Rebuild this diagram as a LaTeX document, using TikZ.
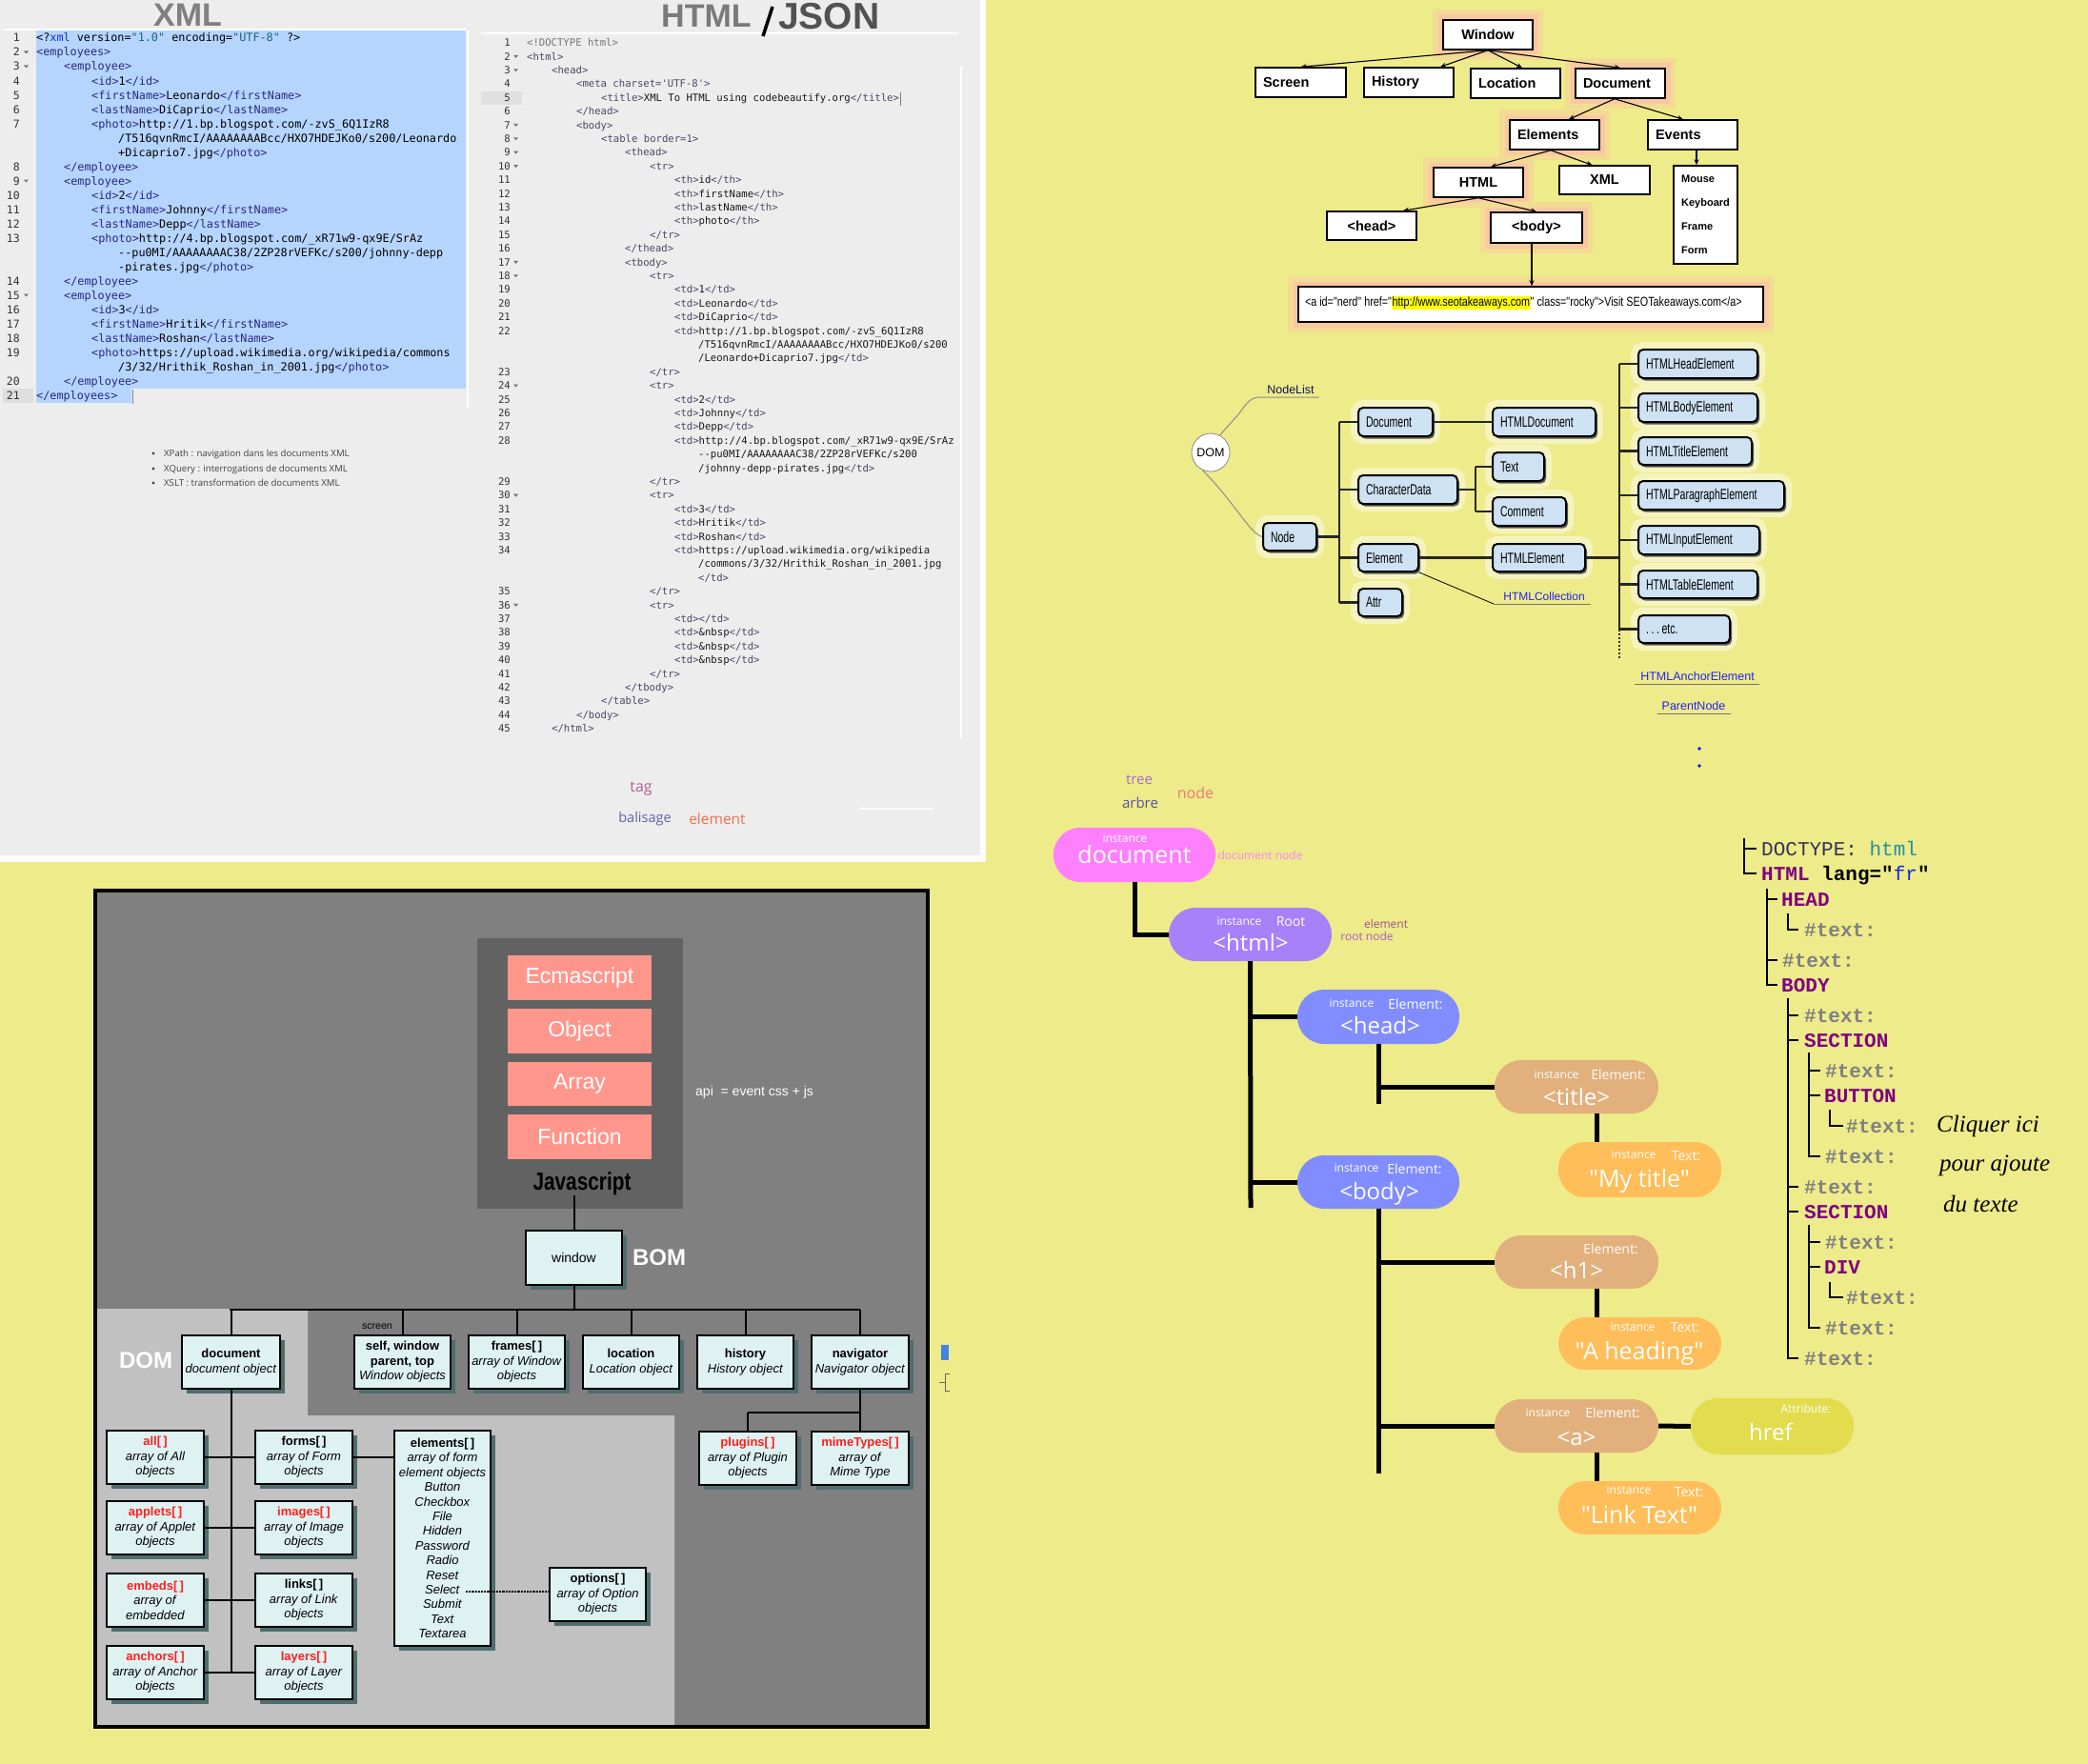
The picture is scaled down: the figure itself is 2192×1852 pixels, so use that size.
\documentclass[tikz,border=0pt]{standalone}
\usepackage{fontspec}
\setmainfont{Liberation Sans}
\newfontfamily\arialf{Liberation Sans}
\newfontfamily\codef{DejaVu Sans Mono}
\newfontfamily\condf[FakeStretch=0.8]{Liberation Sans}
\newfontfamily\narrowf[FakeStretch=0.68]{Liberation Sans}
\newfontfamily\osans{Open Sans}
\newfontfamily\courf{Liberation Mono}
\newfontfamily\lserif{Liberation Serif}
\usetikzlibrary{arrows.meta,shadows,calc}
\definecolor{bgyellow}{RGB}{238,235,138}
\definecolor{panel}{RGB}{237,237,237}
\definecolor{selblue}{RGB}{181,213,255}
\definecolor{xtag}{RGB}{40,40,130}
\definecolor{xval}{RGB}{30,100,120}
\definecolor{xblue}{RGB}{20,40,230}
\definecolor{htag}{RGB}{75,70,100}
\definecolor{hcont}{RGB}{25,25,25}
\definecolor{midgray}{RGB}{128,128,128}
\definecolor{lightgray}{RGB}{193,193,193}
\definecolor{jsgray}{RGB}{98,98,98}
\definecolor{salmon}{RGB}{255,150,140}
\definecolor{boxcyan}{RGB}{222,242,242}
\definecolor{boxshadow}{RGB}{78,110,110}
\definecolor{domblue}{RGB}{207,226,243}
\definecolor{glow}{RGB}{249,200,160}
\definecolor{linkblue}{RGB}{35,35,240}
\definecolor{pdoc}{RGB}{255,128,255}
\definecolor{phtml}{RGB}{168,128,250}
\definecolor{phead}{RGB}{128,140,255}
\definecolor{pelem}{RGB}{225,176,124}
\definecolor{ptext}{RGB}{255,190,90}
\definecolor{pattr}{RGB}{226,220,78}
\definecolor{cpurple}{RGB}{128,0,128}
\definecolor{cgray}{RGB}{128,128,128}
\definecolor{cteal}{RGB}{32,144,160}
\definecolor{doct}{RGB}{50,50,85}
\definecolor{redtxt}{RGB}{255,30,30}
\definecolor{hlyellow}{RGB}{255,255,0}
\definecolor{tagc}{RGB}{176,96,150}
\definecolor{balc}{RGB}{96,96,170}
\definecolor{elemc}{RGB}{240,112,80}
\definecolor{nlc}{RGB}{20,20,90}
\definecolor{artblue}{RGB}{70,130,230}
\definecolor{treec}{RGB}{170,110,200}
\definecolor{arbrec}{RGB}{90,80,165}
\definecolor{nodec}{RGB}{240,120,120}
\definecolor{elemlc}{RGB}{160,80,140}
\definecolor{rootlc}{RGB}{170,90,200}
\newcommand\tg[1]{\textcolor{xtag}{#1}}
\newcommand\hc[1]{\textcolor{hcont}{#1}}
\newcommand\rd[1]{\textcolor{redtxt}{\textbf{#1}}}
\newcommand\xcl[3]{\node[myxcode] at (#1,{44+15*(#2-1)}) {#3};}
\newcommand\hcl[3]{\node[myhcode] at (#1,{48.7+14.4*(#2-1)}) {#3};}
\newcommand\bxx[7]{%
  \pgfmathsetmacro\bxW{#5-#3}\pgfmathsetmacro\bxH{#6-#4}%
  \pgfmathsetmacro\bxX{(#3+#5)/2}\pgfmathsetmacro\bxY{(#4+#6)/2}%
  \node[#1, minimum width=\bxW pt, minimum height=\bxH pt] (#2) at (\bxX,\bxY) {#7};}
\newcommand\lbx[7]{%
  \pgfmathsetmacro\bxW{#5-#3}\pgfmathsetmacro\bxH{#6-#4}%
  \pgfmathsetmacro\bxX{(#3+#5)/2}\pgfmathsetmacro\bxY{(#4+#6)/2}%
  \node[#1, minimum width=\bxW pt, minimum height=\bxH pt] (#2) at (\bxX,\bxY) {\makebox[\bxW pt][l]{\hspace{8pt}#7}};}
\newcommand\rtx[3]{\node[myrt] at (#1,{#2+7}) {#3};}
\newcommand\txh{\textcolor{cgray}{\bfseries\#text:}}
\newcommand\tpu[1]{\textcolor{cpurple}{\bfseries #1}}
\tikzset{
  myxcode/.style={anchor=base west, inner sep=0pt, font=\codef\fontsize{11.8}{13}\selectfont, text=black},
  myhcode/.style={anchor=base west, inner sep=0pt, font=\codef\fontsize{10.6}{12}\selectfont, text=htag},
  mywbox/.style={draw=black, line width=1.5pt, fill=white, inner sep=0pt, font=\arialf\bfseries\fontsize{14.5}{16}\selectfont},
  myglow/.style={preaction={draw=glow!45!bgyellow, line width=22pt}, preaction={draw=glow, line width=11pt}},
  mywarr/.style={line width=1.1pt, -{Stealth[length=6pt,width=5pt]}},
  mydom/.style={draw=black, line width=2pt, fill=domblue, rounded corners=5pt, inner sep=0pt, font=\narrowf\fontsize{15.5}{16}\selectfont, preaction={draw=white, draw opacity=0.45, line width=16pt}, drop shadow={shadow xshift=2pt, shadow yshift=-2.5pt, fill=black!65, opacity=1}},
  mydline/.style={line width=2.3pt, black!85},
  mybbox/.style={draw=black, line width=2pt, fill=boxcyan, inner sep=0pt, align=center, font=\arialf\fontsize{13}{15.4}\selectfont, drop shadow={shadow xshift=5pt, shadow yshift=-5pt, fill=boxshadow, opacity=1}},
  mybline/.style={line width=2pt, black},
  mysalm/.style={fill=salmon, inner sep=0pt, text=white, font=\arialf\fontsize{23}{23}\selectfont},
  mypill/.style={rounded corners=28pt, inner sep=0pt},
  mypbig/.style={text=white, inner sep=0pt, font=\osans\fontsize{24}{24}\selectfont, text height=17pt, text depth=0pt},
  mypmid/.style={text=white, inner sep=0pt, font=\osans\fontsize{14}{14}\selectfont, text height=10pt, text depth=0pt},
  mypsmall/.style={text=white, inner sep=0pt, font=\osans\fontsize{12}{12}\selectfont, text height=8.5pt, text depth=0pt},
  myconn/.style={line width=5pt, black},
  myrt/.style={anchor=base west, inner sep=0pt, font=\courf\fontsize{21}{21}\selectfont},
  mytline/.style={line width=2pt, black},
  mylbl/.style={inner sep=0pt, font=\osans\fontsize{12}{12}\selectfont},
}
\begin{document}
\begin{tikzpicture}[x=1pt,y=-1pt]
\useasboundingbox (0,0) rectangle (2192,1852);
\fill[bgyellow] (0,0) rectangle (2192,1852);
% ================= top-left grey panel
\fill[white] (0,0) rectangle (1035,905);
\fill[panel] (0,0) rectangle (1029,898);
% ---- XML pane
\draw[white, line width=1.5pt] (3,31) -- (490,31);
\fill[selblue] (38,32.5) rectangle (489,407.5);
\fill[selblue] (38,407.5) rectangle (138,422.5);
\fill[black!13] (3,407.5) rectangle (35,422.5);
\draw[white, line width=1.5pt] (491,32) -- (491,428);
\draw[black!50, line width=0.8pt] (139,409) -- (139,424);
\node[anchor=base, inner sep=0pt, font=\arialf\bfseries\fontsize{34}{34}\selectfont, text=black!50] (xmltitle) at (197,28) {XML};
\foreach \n in {1,...,21} {
  \pgfmathtruncatemacro\rw{\n+2*(\n>7)+2*(\n>13)+1*(\n>19)}
  \node[anchor=base east, inner sep=0pt, font=\codef\fontsize{11.5}{13}\selectfont, text=black!80] at (21,{44+15*(\rw-1)}) {\n};
}
\foreach \rr in {2,3,11,19} {\fill[black!55] (25,{38.5+15*(\rr-1)}) -- (30,{38.5+15*(\rr-1)}) -- (27.5,{41.5+15*(\rr-1)}) -- cycle;}
\xcl{38}{1}{<?\textcolor{xblue}{xml} version=\textcolor{xval}{"1.0"} encoding=\textcolor{xval}{"UTF-8"} ?>}
\xcl{38}{2}{\tg{<employees>}}
\xcl{67}{3}{\tg{<employee>}}
\xcl{96}{4}{\tg{<id>}1\tg{</id>}}
\xcl{96}{5}{\tg{<firstName>}Leonardo\tg{</firstName>}}
\xcl{96}{6}{\tg{<lastName>}DiCaprio\tg{</lastName>}}
\xcl{96}{7}{\tg{<photo>}http://1.bp.blogspot.com/-zvS\_6Q1IzR8}
\xcl{124}{8}{/T516qvnRmcI/AAAAAAAABcc/HXO7HDEJKo0/s200/Leonardo}
\xcl{124}{9}{+Dicaprio7.jpg\tg{</photo>}}
\xcl{67}{10}{\tg{</employee>}}
\xcl{67}{11}{\tg{<employee>}}
\xcl{96}{12}{\tg{<id>}2\tg{</id>}}
\xcl{96}{13}{\tg{<firstName>}Johnny\tg{</firstName>}}
\xcl{96}{14}{\tg{<lastName>}Depp\tg{</lastName>}}
\xcl{96}{15}{\tg{<photo>}http://4.bp.blogspot.com/\_xR71w9-qx9E/SrAz}
\xcl{124}{16}{-{}-pu0MI/AAAAAAAAC38/2ZP28rVEFKc/s200/johnny-depp}
\xcl{124}{17}{-pirates.jpg\tg{</photo>}}
\xcl{67}{18}{\tg{</employee>}}
\xcl{67}{19}{\tg{<employee>}}
\xcl{96}{20}{\tg{<id>}3\tg{</id>}}
\xcl{96}{21}{\tg{<firstName>}Hritik\tg{</firstName>}}
\xcl{96}{22}{\tg{<lastName>}Roshan\tg{</lastName>}}
\xcl{96}{23}{\tg{<photo>}https://upload.wikimedia.org/wikipedia/commons}
\xcl{124}{24}{/3/32/Hrithik\_Roshan\_in\_2001.jpg\tg{</photo>}}
\xcl{67}{25}{\tg{</employee>}}
\xcl{38}{26}{\tg{</employees>}}
% bullets
\foreach \yy/\tt in {476/{XPath : navigation dans les documents XML},492/{XQuery : interrogations de documents XML},507/{XSLT : transformation de documents XML}} {
  \fill[black!75] (161,\yy) circle (1.6);
  \node[anchor=base west, inner sep=0pt, font=\osans\fontsize{9.6}{11}\selectfont, text=black!75] at (172,{\yy+3.5}) {\tt};
}
% ---- HTML pane
\draw[white, line width=1.5pt] (505,35) -- (1006,35);
\draw[white, line width=1.2pt] (1009,70) -- (1009,775);
\draw[white, line width=1.2pt] (903,849) -- (980,849);
\fill[black!12] (505,96) rectangle (548,110);
\draw[black!50, line width=0.8pt] (945,97) -- (945,111);
\node[anchor=base west, inner sep=0pt, font=\arialf\bfseries\fontsize{34}{34}\selectfont, text=black!52] (htmltitle) at (694,28.5) {HTML};
\draw[black, line width=3.5pt] (801,38) -- (811,7);
\node[anchor=base west, inner sep=0pt, font=\arialf\bfseries\fontsize{39}{39}\selectfont, text=black!68] (jsontitle) at (817,31) {JSON};
\foreach \n in {1,...,45} {
  \pgfmathtruncatemacro\rw{\n+2*(\n>22)+2*(\n>28)+2*(\n>34)}
  \node[anchor=base east, inner sep=0pt, font=\codef\fontsize{10.6}{12}\selectfont, text=black!80] at (536,{48.7+14.4*(\rw-1)}) {\n};
}
\foreach \rr in {2,3,7,8,9,10,17,18,26,34,42} {\fill[black!55] (539,{43.5+14.4*(\rr-1)}) -- (544,{43.5+14.4*(\rr-1)}) -- (541.5,{46.5+14.4*(\rr-1)}) -- cycle;}
\hcl{553}{1}{\textcolor{black!55}{<!DOCTYPE html>}}
\hcl{553}{2}{<html>}
\hcl{579}{3}{<head>}
\hcl{605}{4}{<meta charset='UTF-8'>}
\hcl{631}{5}{<title>\hc{XML To HTML using codebeautify.org}</title>}
\hcl{605}{6}{</head>}
\hcl{605}{7}{<body>}
\hcl{631}{8}{<table border=1>}
\hcl{656}{9}{<thead>}
\hcl{682}{10}{<tr>}
\hcl{708}{11}{<th>\hc{id}</th>}
\hcl{708}{12}{<th>\hc{firstName}</th>}
\hcl{708}{13}{<th>\hc{lastName}</th>}
\hcl{708}{14}{<th>\hc{photo}</th>}
\hcl{682}{15}{</tr>}
\hcl{656}{16}{</thead>}
\hcl{656}{17}{<tbody>}
\hcl{682}{18}{<tr>}
\hcl{708}{19}{<td>\hc{1}</td>}
\hcl{708}{20}{<td>\hc{Leonardo}</td>}
\hcl{708}{21}{<td>\hc{DiCaprio}</td>}
\hcl{708}{22}{<td>\hc{http://1.bp.blogspot.com/-zvS\_6Q1IzR8}}
\hcl{733}{23}{\hc{/T516qvnRmcI/AAAAAAAABcc/HXO7HDEJKo0/s200}}
\hcl{733}{24}{\hc{/Leonardo+Dicaprio7.jpg}</td>}
\hcl{682}{25}{</tr>}
\hcl{682}{26}{<tr>}
\hcl{708}{27}{<td>\hc{2}</td>}
\hcl{708}{28}{<td>\hc{Johnny}</td>}
\hcl{708}{29}{<td>\hc{Depp}</td>}
\hcl{708}{30}{<td>\hc{http://4.bp.blogspot.com/\_xR71w9-qx9E/SrAz}}
\hcl{733}{31}{\hc{-{}-pu0MI/AAAAAAAAC38/2ZP28rVEFKc/s200}}
\hcl{733}{32}{\hc{/johnny-depp-pirates.jpg}</td>}
\hcl{682}{33}{</tr>}
\hcl{682}{34}{<tr>}
\hcl{708}{35}{<td>\hc{3}</td>}
\hcl{708}{36}{<td>\hc{Hritik}</td>}
\hcl{708}{37}{<td>\hc{Roshan}</td>}
\hcl{708}{38}{<td>\hc{https://upload.wikimedia.org/wikipedia}}
\hcl{733}{39}{\hc{/commons/3/32/Hrithik\_Roshan\_in\_2001.jpg}}
\hcl{733}{40}{</td>}
\hcl{682}{41}{</tr>}
\hcl{682}{42}{<tr>}
\hcl{708}{43}{<td></td>}
\hcl{708}{44}{<td>\hc{\&nbsp}</td>}
\hcl{708}{45}{<td>\hc{\&nbsp}</td>}
\hcl{708}{46}{<td>\hc{\&nbsp}</td>}
\hcl{682}{47}{</tr>}
\hcl{656}{48}{</tbody>}
\hcl{631}{49}{</table>}
\hcl{605}{50}{</body>}
\hcl{579}{51}{</html>}
\node[inner sep=0pt, font=\osans\fontsize{16}{16}\selectfont, text=tagc] (tagw) at (673,828) {tag};
\node[inner sep=0pt, font=\osans\fontsize{14.5}{15}\selectfont, text=balc] (balw) at (677,860) {balisage};
\node[inner sep=0pt, font=\osans\fontsize{15.5}{16}\selectfont, text=elemc] (elw) at (753,860) {element};
% ================= top-right Window tree
\bxx{mywbox,myglow}{win}{1515}{21}{1609}{52}{Window}
\lbx{mywbox}{scr}{1318}{71}{1413}{102}{Screen}
\lbx{mywbox}{hist}{1432}{71}{1526}{102}{History}
\lbx{mywbox}{loc}{1544}{72}{1638}{103}{Location}
\lbx{mywbox,myglow}{docw}{1654}{72}{1748}{103}{Document}
\lbx{mywbox,myglow}{elw2}{1585}{126}{1679}{157}{Elements}
\lbx{mywbox}{evw}{1730}{126}{1824}{157}{Events}
\bxx{mywbox,myglow}{htmlw}{1505}{176}{1599}{207}{HTML}
\bxx{mywbox}{xmlw}{1637}{174}{1732}{204}{XML}
\bxx{mywbox}{headw}{1393}{222}{1487}{252}{<head>}
\bxx{mywbox,myglow}{bodyw}{1565}{223}{1661}{255}{<body>}
\bxx{mywbox, align=left, font=\arialf\bfseries\fontsize{11}{25}\selectfont}{mouseb}{1757}{174}{1824}{277}{Mouse\\Keyboard\\Frame\\Form}
\bxx{mywbox,myglow, font=\condf\fontsize{13.5}{15}\selectfont}{abox}{1363}{301}{1851}{338}{\raisebox{6pt}{\makebox[474pt][l]{<a id="nerd" href="{\fboxsep=0.5pt\colorbox{hlyellow}{http://www.seotakeaways.com}}" class="rocky">Visit SEOTakeaways.com</a>}}}
\draw[mywarr] (win.south) -- (scr.north);
\draw[mywarr] (win.south) -- ([xshift=33pt]hist.north);
\draw[mywarr] (win.south) -- ([xshift=7pt]loc.north);
\draw[mywarr] (win.south) -- (docw.north);
\draw[mywarr] ([xshift=-6pt]docw.south) -- ([xshift=15pt]elw2.north);
\draw[mywarr] ([xshift=-6pt]docw.south) -- ([xshift=-10pt]evw.north);
\draw[mywarr] ([xshift=-4pt]elw2.south) -- ([xshift=13pt]htmlw.north);
\draw[mywarr] ([xshift=-4pt]elw2.south) -- ([xshift=-13pt]xmlw.north);
\draw[mywarr] ([xshift=4pt]evw.south) -- ([xshift=4pt]evw.south |- mouseb.north);
\draw[mywarr] (htmlw.south) -- ([xshift=33pt]headw.north);
\draw[mywarr] (htmlw.south) -- (bodyw.north);
\draw[mywarr] ([xshift=-5pt]bodyw.south) -- ([xshift=-5pt]bodyw.south |- abox.north);
% ================= DOM class tree
\lbx{mydom}{nodeb}{1326}{549}{1382}{578}{Node}
\lbx{mydom}{docb}{1426}{428}{1504}{458}{Document}
\lbx{mydom}{cdb}{1426}{499}{1530}{529}{CharacterData}
\lbx{mydom}{elb}{1426}{571}{1489}{600}{Element}
\lbx{mydom}{attrb}{1426}{618}{1472}{647}{Attr}
\lbx{mydom}{htmldocb}{1567}{428}{1675}{458}{HTMLDocument}
\lbx{mydom}{textb}{1567}{475}{1621}{505}{Text}
\lbx{mydom}{commb}{1567}{522}{1644}{552}{Comment}
\lbx{mydom}{htmlelb}{1567}{571}{1664}{600}{HTMLElement}
\lbx{mydom}{hhe}{1720}{367}{1845}{397}{HTMLHeadElement}
\lbx{mydom}{hbe}{1720}{413}{1845}{443}{HTMLBodyElement}
\lbx{mydom}{hte}{1720}{459}{1839}{488}{HTMLTitleElement}
\lbx{mydom}{hpe}{1720}{505}{1873}{535}{HTMLParagraphElement}
\lbx{mydom}{hie}{1720}{552}{1847}{582}{HTMLInputElement}
\lbx{mydom}{htbe}{1720}{599}{1845}{628}{HTMLTableElement}
\lbx{mydom}{etcb}{1720}{646}{1816}{675}{.\,.\,.\,etc.}
\node[circle, draw=black!45, line width=0.8pt, fill=white, minimum size=40pt, inner sep=0pt, font=\arialf\fontsize{12.5}{13}\selectfont] (domc) at (1271,475) {DOM};
\coordinate (t1) at (1406,443);
\coordinate (cdj) at (1549,514);
\coordinate (t2) at (1700,382);
\coordinate (t2end) at (1700,692);
\draw[mydline] (nodeb.east) -- (nodeb.east -| t1);
\draw[mydline] (t1 |- docb.west) -- (t1 |- attrb.west);
\foreach \bb in {docb,cdb,elb,attrb} {\draw[mydline] (t1 |- \bb.west) -- (\bb.west);}
\draw[mydline] (docb.east) -- (htmldocb.west);
\draw[mydline] (cdb.east) -- (cdb.east -| cdj);
\draw[mydline] (cdj |- textb.west) -- (cdj |- commb.west);
\draw[mydline] (cdj |- textb.west) -- (textb.west);
\draw[mydline] (cdj |- commb.west) -- (commb.west);
\draw[mydline] (elb.east) -- (htmlelb.west);
\draw[mydline] (htmlelb.east) -- (htmlelb.east -| t2);
\draw[mydline] (t2 |- hhe.west) -- (t2 |- etcb.west);
\foreach \bb in {hhe,hbe,hte,hpe,hie,htbe,etcb} {\draw[mydline] (t2 |- \bb.west) -- (\bb.west);}
\draw[black!80, line width=2pt, dotted] (t2 |- etcb.west) -- (t2end);
% labels of DOM class tree
\coordinate (nlA) at (1322,417); \coordinate (nlB) at (1385,417);
\draw[black!45, line width=1pt] (domc.62) -- (1301,434) .. controls (1308,424) and (1313,417) .. (nlA) -- (nlB);
\node[inner sep=0pt, font=\arialf\fontsize{12.5}{13}\selectfont, text=nlc] (nodelist) at (1355,409) {NodeList};
\draw[black!45, line width=1pt] (domc.245) .. controls (1298,530) and (1312,560) .. (nodeb.west);
\coordinate (hcA) at (1568,634); \coordinate (hcB) at (1670,634);
\draw[black, line width=0.8pt] (elb.south east) -- (hcA);
\draw[black!55, line width=1pt] (hcA) -- (hcB);
\node[inner sep=0pt, font=\arialf\fontsize{12}{13}\selectfont, text=linkblue] (hcoll) at (1621,626) {HTMLCollection};
\coordinate (haA) at (1716,718); \coordinate (haB) at (1847,718);
\draw[black!55, line width=1pt] (haA) -- (haB);
\node[inner sep=0pt, font=\arialf\fontsize{12.5}{13}\selectfont, text=linkblue] (hanch) at (1782,710) {HTMLAnchorElement};
\coordinate (pnA) at (1740,749); \coordinate (pnB) at (1817,749);
\draw[black!55, line width=1pt] (pnA) -- (pnB);
\node[inner sep=0pt, font=\arialf\fontsize{12.5}{13}\selectfont, text=linkblue] (pnode) at (1778,741) {ParentNode};
\fill[blue] (1784,786) circle (1.8);
\fill[blue] (1784,804) circle (1.8);
% ================= bottom-left Javascript / BOM / DOM panel
\fill[midgray] (102,937) rectangle (972,1811);
\fill[lightgray] (102,1374) -- (323,1374) -- (323,1486) -- (708,1486) -- (708,1811) -- (102,1811) -- cycle;
\draw[black, line width=4pt] (100,935) rectangle (974,1813);
\fill[jsgray] (501,985) rectangle (717,1269);
\bxx{mysalm}{ecma}{533}{1003}{684}{1050}{Ecmascript}
\bxx{mysalm}{objb}{533}{1059}{684}{1106}{Object}
\bxx{mysalm}{arrb}{533}{1115}{684}{1161}{Array}
\bxx{mysalm}{funb}{533}{1170}{684}{1217}{Function}
\node[inner sep=0pt, font=\condf\bfseries\fontsize{26}{26}\selectfont, text=black] (jstxt) at (611,1243) {Javascript};
\node[anchor=west, inner sep=0pt, font=\arialf\fontsize{14}{14}\selectfont, text=white] (apitxt) at (730,1147) {api \ = event css + js};
\bxx{mybbox, font=\arialf\fontsize{14}{15}\selectfont}{bwin}{552}{1292}{653}{1349}{window}
\node[inner sep=0pt, font=\arialf\bfseries\fontsize{24}{24}\selectfont, text=white] (bomtxt) at (692,1320) {BOM};
\node[inner sep=0pt, font=\arialf\bfseries\fontsize{24}{24}\selectfont, text=white] (domtxt) at (153,1428) {DOM};
\node[inner sep=0pt, font=\arialf\fontsize{10.5}{11}\selectfont, text=black] (scrtxt) at (396,1393) {screen};
\coordinate (busL) at (241,1375);
\coordinate (busR) at (903,1375);
\draw[mybline] (bwin.north) -- (bwin.north |- jstxt.south);
\draw[mybline] (bwin.south) -- (bwin.south |- busL);
\draw[mybline] (busL) -- (busR);
\bxx{mybbox}{bdoc}{191}{1402}{294}{1458}{\textbf{document}\\\textit{document object}}
\bxx{mybbox}{bself}{372}{1402}{473}{1458}{\textbf{self, window}\\\textbf{parent, top}\\\textit{Window objects}}
\bxx{mybbox}{bframes}{492}{1402}{593}{1458}{\textbf{frames[\,]}\\\textit{array of Window}\\\textit{objects}}
\bxx{mybbox}{bloc}{612}{1402}{713}{1458}{\textbf{location}\\\textit{Location object}}
\bxx{mybbox}{bhist}{732}{1402}{833}{1458}{\textbf{history}\\\textit{History object}}
\bxx{mybbox}{bnav}{852}{1402}{954}{1458}{\textbf{navigator}\\\textit{Navigator object}}
\foreach \bb in {bdoc,bself,bframes,bloc,bhist,bnav} {\draw[mybline] (\bb.north |- busL) -- (\bb.north);}
\bxx{mybbox}{ball}{112}{1502}{214}{1558}{\rd{all[\,]}\\\textit{array of All}\\\textit{objects}}
\bxx{mybbox}{bforms}{268}{1502}{370}{1558}{\textbf{forms[\,]}\\\textit{array of Form}\\\textit{objects}}
\bxx{mybbox}{bapp}{112}{1576}{214}{1632}{\rd{applets[\,]}\\\textit{array of Applet}\\\textit{objects}}
\bxx{mybbox}{bimg}{268}{1576}{370}{1632}{\rd{images[\,]}\\\textit{array of Image}\\\textit{objects}}
\bxx{mybbox}{bemb}{112}{1652}{214}{1708}{\rd{embeds[\,]}\\\textit{array of}\\\textit{embedded}}
\bxx{mybbox}{blinks}{268}{1652}{370}{1708}{\textbf{links[\,]}\\\textit{array of Link}\\\textit{objects}}
\bxx{mybbox}{banch}{112}{1728}{214}{1784}{\rd{anchors[\,]}\\\textit{array of Anchor}\\\textit{objects}}
\bxx{mybbox}{blay}{268}{1728}{370}{1784}{\rd{layers[\,]}\\\textit{array of Layer}\\\textit{objects}}
\bxx{mybbox}{belem}{414}{1502}{515}{1728}{\textbf{elements[\,]}\\\textit{array of form}\\\textit{element objects}\\\textit{Button}\\\textit{Checkbox}\\\textit{File}\\\textit{Hidden}\\\textit{Password}\\\textit{Radio}\\\textit{Reset}\\\textit{Select}\\\textit{Submit}\\\textit{Text}\\\textit{Textarea}}
\bxx{mybbox}{bopt}{577}{1646}{678}{1702}{\textbf{options[\,]}\\\textit{array of Option}\\\textit{objects}}
\bxx{mybbox}{bplug}{734}{1503}{836}{1559}{\rd{plugins[\,]}\\\textit{array of Plugin}\\\textit{objects}}
\bxx{mybbox}{bmime}{852}{1503}{954}{1559}{\rd{mimeTypes[\,]}\\\textit{array of}\\\textit{Mime Type}}
\coordinate (dtr) at (241,1756);
\draw[mybline] (bdoc.south) -- (bdoc.south |- dtr);
\draw[mybline] (ball.east) -- (bforms.west);
\draw[mybline] (bapp.east) -- (bimg.west);
\draw[mybline] (bemb.east) -- (blinks.west);
\draw[mybline] (banch.east) -- (blay.west);
\draw[mybline] (bforms.east) -- (bforms.east -| belem.west);
\coordinate (selR) at (489,1671);
\draw[black, line width=2.2pt, densely dotted] (selR) -- (selR -| bopt.west);
\coordinate (navbus) at (903,1483);
\draw[mybline] (bnav.south) -- (bnav.south |- navbus);
\draw[mybline] (bplug.north |- navbus) -- (bmime.north |- navbus);
\draw[mybline] (bplug.north |- navbus) -- (bplug.north);
\draw[mybline] (bmime.north |- navbus) -- (bmime.north);
% small artifacts at right edge of panel
\fill[artblue] (988,1412) rectangle (996,1428);
\draw[black!60, line width=1pt] (997,1442) -- (992,1442) -- (992,1460) -- (997,1460);
\draw[black!60, line width=1pt] (986,1451) -- (992,1451);
% ================= bottom-middle document tree
\node[mylbl, font=\osans\fontsize{15}{15}\selectfont, text=treec] (treew) at (1196,819) {tree};
\node[mylbl, font=\osans\fontsize{15}{15}\selectfont, text=arbrec] (arbrew) at (1197,843) {arbre};
\node[mylbl, font=\osans\fontsize{16}{16}\selectfont, text=nodec] (nodew) at (1255,832) {node};
\bxx{mypill, fill=pdoc}{pdocn}{1106}{869}{1276}{926}{}
\bxx{mypill, fill=phtml}{phtmln}{1227}{953}{1398}{1009}{}
\bxx{mypill, fill=phead}{pheadn}{1362}{1039}{1532}{1096}{}
\bxx{mypill, fill=pelem}{ptitlen}{1569}{1113}{1741}{1169}{}
\bxx{mypill, fill=ptext}{pmytn}{1636}{1199}{1807}{1257}{}
\bxx{mypill, fill=phead}{pbodyn}{1362}{1213}{1532}{1269}{}
\bxx{mypill, fill=pelem}{ph1n}{1569}{1297}{1741}{1353}{}
\bxx{mypill, fill=ptext}{pheadingn}{1636}{1383}{1807}{1438}{}
\bxx{mypill, fill=pelem}{pan}{1569}{1469}{1741}{1525}{}
\bxx{mypill, rounded corners=29pt, fill=pattr}{phrefn}{1775}{1468}{1946}{1527}{}
\bxx{mypill, fill=ptext}{plinkn}{1636}{1555}{1807}{1611}{}
\node[mypsmall] at (1181,880) {instance};
\node[mypbig, font=\osans\fontsize{25}{25}\selectfont] at (1191,898) {document};
\node[mylbl, text=pdoc] (docnode) at (1323,898) {document node};
\node[mypsmall] at (1301,967) {instance};
\node[mypmid] at (1355,967) {Root};
\node[mypbig] at (1313,990) {<html>};
\node[mylbl, text=elemlc] (elemlbl) at (1455,970) {element};
\node[mylbl, text=rootlc] (rootlbl) at (1435,983) {root node};
\node[mypsmall] at (1419,1053) {instance};
\node[mypmid] at (1486,1054) {Element:};
\node[mypbig] at (1449,1077) {<head>};
\node[mypsmall] at (1634,1128) {instance};
\node[mypmid] at (1699,1128) {Element:};
\node[mypbig] at (1655,1152) {<title>};
\node[mypsmall] at (1715,1212) {instance};
\node[mypmid] at (1770,1213) {Text:};
\node[mypbig, font=\osans\fontsize{25}{25}\selectfont] at (1721,1238) {"My title"};
\node[mypsmall] at (1424,1226) {instance};
\node[mypmid] at (1485,1227) {Element:};
\node[mypbig] at (1448,1251) {<body>};
\node[mypmid] at (1691,1311) {Element:};
\node[mypbig] at (1655,1334) {<h1>};
\node[mypsmall] at (1714,1393) {instance};
\node[mypmid] at (1769,1393) {Text:};
\node[mypbig, font=\osans\fontsize{25}{25}\selectfont] at (1721,1419) {"A heading"};
\node[mypsmall] at (1625,1483) {instance};
\node[mypmid] at (1693,1483) {Element:};
\node[mypbig] at (1655,1509) {<a>};
\node[mypsmall] at (1896,1479) {Attribute:};
\node[mypbig] at (1859,1504) {href};
\node[mypsmall] at (1710,1564) {instance};
\node[mypmid] at (1773,1566) {Text:};
\node[mypbig, font=\osans\fontsize{25}{25}\selectfont] at (1721,1591) {"Link Text"};
\coordinate (htend) at (1313,1268);
\coordinate (hdend) at (1447,1159);
\coordinate (bdend) at (1447,1547);
\draw[myconn] (pdocn.south) |- (phtmln.west);
\draw[myconn] (phtmln.south) -- (htend);
\draw[myconn] (phtmln.south |- pheadn.west) -- (pheadn.west);
\draw[myconn] (phtmln.south |- pbodyn.west) -- (pbodyn.west);
\draw[myconn] (pheadn.south) -- (hdend);
\draw[myconn] (pheadn.south |- ptitlen.west) -- (ptitlen.west);
\draw[myconn] ([xshift=21pt]ptitlen.south) -- ([xshift=21pt]ptitlen.south |- pmytn.north);
\draw[myconn] (pbodyn.south) -- (bdend);
\draw[myconn] (pbodyn.south |- ph1n.west) -- (ph1n.west);
\draw[myconn] (pbodyn.south |- pan.west) -- (pan.west);
\draw[myconn] ([xshift=21pt]ph1n.south) -- ([xshift=21pt]ph1n.south |- pheadingn.north);
\draw[myconn] (pan.east) -- (phrefn.west);
\draw[myconn] ([xshift=21pt]pan.south) -- ([xshift=21pt]pan.south |- plinkn.north);
% ================= right DOM text tree
\rtx{1849}{891}{\textcolor{doct}{DOCTYPE:} \textcolor{cteal}{html}}
\rtx{1849}{917}{\tpu{HTML} \textbf{lang="}\textcolor{xblue}{fr}\textbf{"}}
\rtx{1870}{944}{\tpu{HEAD}}
\rtx{1894}{976}{\txh}
\rtx{1871}{1008}{\txh}
\rtx{1870}{1034}{\tpu{BODY}}
\rtx{1894}{1066}{\txh}
\rtx{1894}{1092}{\tpu{SECTION}}
\rtx{1916}{1124}{\txh}
\rtx{1915}{1150}{\tpu{BUTTON}}
\rtx{1938}{1182}{\txh}
\rtx{1916}{1214}{\txh}
\rtx{1894}{1246}{\txh}
\rtx{1894}{1272}{\tpu{SECTION}}
\rtx{1916}{1304}{\txh}
\rtx{1915}{1330}{\tpu{DIV}}
\rtx{1938}{1362}{\txh}
\rtx{1916}{1394}{\txh}
\rtx{1894}{1426}{\txh}
\draw[mytline] (1831,880) -- (1831,917) -- (1844,917);
\draw[mytline] (1831,891) -- (1844,891);
\draw[mytline] (1855,933) -- (1855,1034) -- (1866,1034);
\draw[mytline] (1855,944) -- (1866,944);
\draw[mytline] (1855,1008) -- (1866,1008);
\draw[mytline] (1877,959) -- (1877,976) -- (1888,976);
\draw[mytline] (1877,1048) -- (1877,1426) -- (1888,1426);
\foreach \yy in {1066,1092,1246,1272} {\draw[mytline] (1877,\yy) -- (1888,\yy);}
\draw[mytline] (1899,1105) -- (1899,1214) -- (1911,1214);
\draw[mytline] (1899,1124) -- (1911,1124);
\draw[mytline] (1899,1150) -- (1911,1150);
\draw[mytline] (1921,1165) -- (1921,1182) -- (1935,1182);
\draw[mytline] (1899,1286) -- (1899,1394) -- (1911,1394);
\draw[mytline] (1899,1304) -- (1911,1304);
\draw[mytline] (1899,1330) -- (1911,1330);
\draw[mytline] (1921,1346) -- (1921,1362) -- (1935,1362);
\node[anchor=base west, inner sep=0pt, font=\lserif\itshape\fontsize{25}{25}\selectfont] (cliq) at (2033,1188) {Cliquer ici};
\node[anchor=base west, inner sep=0pt, font=\lserif\itshape\fontsize{25}{25}\selectfont] (pour) at (2036,1229) {pour ajoute};
\node[anchor=base west, inner sep=0pt, font=\lserif\itshape\fontsize{25}{25}\selectfont] (dutx) at (2040,1272) {du texte};
\end{tikzpicture}
\end{document}
